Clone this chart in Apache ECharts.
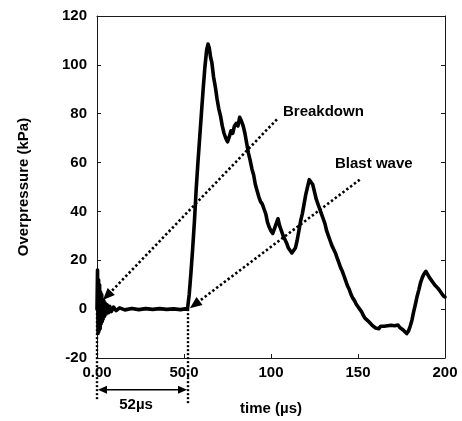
<!DOCTYPE html>
<html>
<head>
<meta charset="utf-8">
<script src="https://cdn.jsdelivr.net/npm/echarts@6/dist/echarts.min.js"></script>
<style>
  html, body { margin: 0; padding: 0; background: #fff; }
  #chart { width: 462px; height: 421px; }
</style>
</head>
<body>
<div id="chart"></div>
<script>
// Pressure trace: time in microseconds, overpressure in kPa
var timeUs = [
  0, 0.3, 0.6, 0.9, 1.2, 1.5, 1.8, 2.1, 2.4, 2.7, 3.0, 3.3, 3.6, 3.9, 4.3, 4.7, 5.2, 5.8, 6.5, 7.3,
  8.2, 9.5, 11, 13, 16, 20, 24, 28, 32, 36, 40, 44, 48, 50.5, 52,
  53, 54, 55, 56, 57, 58, 59, 60, 61, 62, 63, 63.8, 64.5, 65.3, 66, 67, 68, 69, 70,
  71, 72, 73, 74, 75, 76, 77, 78, 79, 80, 81, 82, 83, 84, 85, 86, 87, 88, 89, 90,
  91, 92, 93, 94, 95, 96, 97, 98, 99, 100, 101, 102, 103, 104, 105, 106, 107, 108, 109, 110,
  111, 112, 113, 114, 115, 116, 117, 118, 119, 120, 121, 122, 123, 124, 125, 126, 127, 128, 129, 130,
  131, 132, 133, 134, 135, 136, 137, 138, 139, 140, 141, 142, 143, 144, 145, 146, 147, 148, 149, 150,
  151, 152, 153, 154, 155, 156, 157, 158, 159, 160, 161, 162, 163, 164, 165, 166, 167, 168, 169, 170,
  171, 172, 173, 174, 175, 176, 177, 178, 179, 180, 181, 182, 183, 184, 185, 186, 187, 188, 189, 190,
  191, 192, 193, 194, 195, 196, 197, 198, 199, 200
];
var overpressure = [
  0, 16, -10, 12, -9, 10, -8, 7, -6, 6, -5, 4, -4, 3.5, -3, 2.5, -2, 1.8, -1.5, 1.2,
  -1, 0.8, -0.6, 0.5, -0.3, 0.3, -0.2, 0.2, -0.1, 0.2, -0.1, 0.1, -0.2, 0.1, 0,
  6, 15, 25, 36, 49, 60, 70, 80, 90, 99, 106, 108.5, 107, 103, 101, 95, 91, 86, 82,
  79, 75, 72, 70, 68.5, 70.5, 73, 72, 75, 76, 75, 78.5, 77, 75, 72, 68, 64, 61, 57.5, 55,
  51, 48.5, 46, 44, 43, 41, 39, 35.5, 33.5, 32, 31, 33, 35, 37, 34, 32, 30, 28.5, 27, 25,
  24, 23, 22.5, 25, 28, 32, 36, 39, 43, 47, 50, 53, 53, 51, 48, 45, 43, 41, 39, 37,
  35, 32, 30, 28, 26, 24.5, 23, 21, 19, 17, 15.5, 13.5, 11.5, 9.5, 8, 6, 4.5, 3.5, 2, 1,
  0.4, -1, -2.5, -3.7, -4.5, -5, -5.5, -6.5, -7, -7.7, -7.2, -8, -7, -7.5, -7, -7.8, -6.8, -7.4, -6.6, -7.2,
  -6.8, -7.3, -6.5, -7.5, -6.8, -8.5, -9, -10, -9, -7, -4.5, -1, 2, 5.3, 8, 11, 13, 14.5, 15.5, 15,
  13, 12.5, 11, 10, 9.4, 8.5, 7.5, 6.5, 5.5, 5
];

// Axis ticks
var xTicks = [0, 50, 100, 150, 200];
var yTicks = [-20, 0, 20, 40, 60, 80, 100, 120];

// Annotations (data coordinates)
var breakdownLabel = { text: 'Breakdown', at: [106.9, 80.6] };
var breakdownArrow = { from: [103.4, 77.7], to: [3.4, 3.7] };
var blastLabel = { text: 'Blast wave', at: [136.8, 59.4] };
var blastArrow = { from: [151.0, 53.0], to: [53.4, 0.4] };
var delayStart = 0;
var delayEnd = 52.3;
var delayText = '52\u00b5s';

var FONT = '"Liberation Sans", Arial, sans-serif';
var chart = echarts.init(document.getElementById('chart'), null, { renderer: 'canvas' });

var points = timeUs.map(function (t, i) { return [t, overpressure[i]]; });

var axisLineStyle = { color: '#1a1a1a', width: 1 };
var labelStyle = { color: '#000', fontFamily: FONT, fontWeight: 'bold', fontSize: 15 };

chart.setOption({
  animation: false,
  backgroundColor: '#fff',
  grid: { left: 97, right: 17, top: 16, bottom: 61 },
  xAxis: [{
    type: 'value', min: xTicks[0], max: xTicks[xTicks.length - 1], interval: 50,
    name: 'time (\u00b5s)', nameLocation: 'middle', nameGap: 43,
    nameTextStyle: labelStyle,
    axisLine: { show: true, onZero: false, lineStyle: axisLineStyle },
    axisTick: { show: true, inside: true, length: 4, lineStyle: axisLineStyle },
    axisLabel: { margin: 7, color: '#000', fontFamily: FONT, fontWeight: 'bold', fontSize: 15,
      formatter: function (v) { return v < 100 ? (v === 0 ? '0.00' : v.toFixed(1)) : String(v); } },
    splitLine: { show: false }
  }, {
    type: 'value', position: 'top', min: 0, max: 200, interval: 50,
    axisLine: { show: true, onZero: false, lineStyle: axisLineStyle },
    axisTick: { show: false }, axisLabel: { show: false }, splitLine: { show: false }
  }],
  yAxis: [{
    type: 'value', min: yTicks[0], max: yTicks[yTicks.length - 1], interval: 20,
    name: 'Overpressure (kPa)', nameLocation: 'middle', nameGap: 66, nameRotate: 90,
    nameTextStyle: labelStyle,
    axisLine: { show: true, onZero: false, lineStyle: axisLineStyle },
    axisTick: { show: true, inside: true, length: 4, lineStyle: axisLineStyle },
    axisLabel: { margin: 10, color: '#000', fontFamily: FONT, fontWeight: 'bold', fontSize: 15 },
    splitLine: { show: false }
  }, {
    type: 'value', position: 'right', min: -20, max: 120, interval: 20,
    axisLine: { show: true, onZero: false, lineStyle: axisLineStyle },
    axisTick: { show: true, inside: true, length: 4, lineStyle: axisLineStyle },
    axisLabel: { show: false }, splitLine: { show: false }
  }],
  series: [{
    type: 'line',
    data: points,
    showSymbol: false,
    symbol: 'none',
    clip: true,
    lineStyle: { color: '#000', width: 3.6, join: 'round', cap: 'round' },
    z: 5
  }]
});

// Annotation graphics placed through the grid's coordinate system
function px(p) { return chart.convertToPixel({ gridIndex: 0 }, p); }

function arrowHead(tip, from, len, half) {
  var dx = tip[0] - from[0], dy = tip[1] - from[1];
  var d = Math.sqrt(dx * dx + dy * dy);
  var ux = dx / d, uy = dy / d;
  var bx = tip[0] - ux * len, by = tip[1] - uy * len;
  return {
    type: 'polygon',
    shape: { points: [tip, [bx - uy * half, by + ux * half], [bx + uy * half, by - ux * half]] },
    style: { fill: '#000' }, z: 20
  };
}

function dottedArrow(a) {
  var p0 = px(a.from), p1 = px(a.to);
  var dx = p1[0] - p0[0], dy = p1[1] - p0[1];
  var d = Math.sqrt(dx * dx + dy * dy);
  var end = [p1[0] - dx / d * 9, p1[1] - dy / d * 9];
  return [{
    type: 'line',
    shape: { x1: p0[0], y1: p0[1], x2: end[0], y2: end[1] },
    style: { stroke: '#000', lineWidth: 2.6, lineDash: [2.4, 2.4] }, z: 20
  }, arrowHead(p1, p0, 12, 5)];
}

function label(l) {
  var p = px(l.at);
  return {
    type: 'text', x: p[0], y: p[1],
    style: { text: l.text, fill: '#000', font: 'bold 15px ' + FONT, textAlign: 'left', textVerticalAlign: 'middle' },
    z: 20
  };
}

var zeroLeft = px([delayStart, 0]);
var zeroRight = px([delayEnd, 0]);
var lowLeft = px([delayStart, -37.4]);
var lowRight = px([delayEnd, -38.6]);
var spanY = px([0, -33])[1];
var spanText = px([(delayStart + delayEnd) / 2 - 3.7, -39.3]);

var graphics = [];
graphics = graphics.concat(dottedArrow(breakdownArrow), dottedArrow(blastArrow));
graphics.push(label(breakdownLabel), label(blastLabel));
graphics.push({
  type: 'line', shape: { x1: zeroLeft[0], y1: zeroLeft[1], x2: lowLeft[0], y2: lowLeft[1] },
  style: { stroke: '#000', lineWidth: 2.4, lineDash: [2, 2] }, z: 20
});
graphics.push({
  type: 'line', shape: { x1: zeroRight[0], y1: zeroRight[1], x2: lowRight[0], y2: lowRight[1] },
  style: { stroke: '#000', lineWidth: 2.4, lineDash: [2, 2] }, z: 20
});
graphics.push({
  type: 'line', shape: { x1: zeroLeft[0] + 6, y1: spanY, x2: zeroRight[0] - 6, y2: spanY },
  style: { stroke: '#000', lineWidth: 1.4 }, z: 20
});
graphics.push(arrowHead([zeroLeft[0] + 1, spanY], [zeroRight[0], spanY], 9, 4));
graphics.push(arrowHead([zeroRight[0] - 1, spanY], [zeroLeft[0], spanY], 9, 4));
graphics.push({
  type: 'text', x: spanText[0], y: spanText[1],
  style: { text: delayText, fill: '#000', font: 'bold 15px ' + FONT, textAlign: 'center', textVerticalAlign: 'middle' },
  z: 20
});

chart.setOption({ graphic: graphics });
</script>
</body>
</html>
